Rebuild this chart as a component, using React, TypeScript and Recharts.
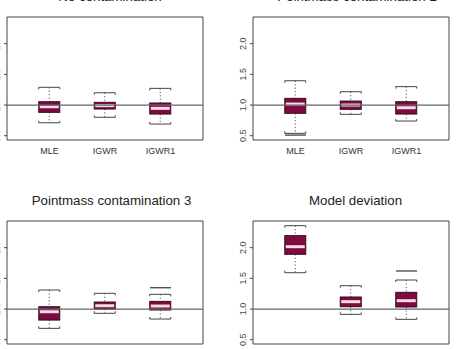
import React from 'react';
import {
  ComposedChart,
  Bar,
  Scatter,
  XAxis,
  YAxis,
  ReferenceLine,
  ReferenceArea,
} from 'recharts';

const methods = ['MLE', 'IGWR', 'IGWR1'];
const yTicks = [0.5, 1.0, 1.5, 2.0];

// [lower whisker, Q1, median, Q3, upper whisker] for each method
const noContamination = [
  [0.711, 0.881, 0.972, 1.054, 1.289],
  [0.8, 0.935, 0.99, 1.044, 1.2],
  [0.69, 0.853, 0.946, 1.033, 1.272],
];
const pointmass2 = [
  [0.538, 0.865, 1.016, 1.109, 1.396],
  [0.848, 0.93, 1.0, 1.065, 1.217],
  [0.739, 0.853, 0.956, 1.054, 1.3],
];
const pointmass3 = [
  [0.685, 0.82, 0.956, 1.038, 1.31],
  [0.93, 1.0, 1.054, 1.114, 1.256],
  [0.837, 0.984, 1.049, 1.125, 1.24],
];
const modelDeviation = [
  [1.592, 1.892, 2.016, 2.196, 2.359],
  [0.913, 1.038, 1.12, 1.196, 1.38],
  [0.832, 1.033, 1.136, 1.272, 1.473],
];

// points beyond the whiskers
const noContaminationOut = [[], [], []];
const pointmass2Out = [[0.51], [], []];
const pointmass3Out = [[], [], [1.347]];
const modelDeviationOut = [[], [], [1.62]];

const FONT = '"Liberation Sans", Arial, Helvetica, sans-serif';
const BOX_W = 21;
const PLOT_W = 196;
const PLOT_H = 123;
const M_TOP = 20;
const AXIS_W = 30;
const X_AXIS_H = 40;

const BoxShape = (props: any) => {
  const { x, y, width, height, payload } = props;
  const [lo, q1, med, q3, hi] = payload.stats;
  const top = Math.min(y, y + height);
  const ppu = Math.abs(height) / (hi - lo);
  const py = (v: number) => top + (hi - v) * ppu;
  const cx = x + width / 2;
  const l = x;
  const r = x + width;
  return (
    <g>
      <line x1={cx} x2={cx} y1={py(hi)} y2={py(q3)} stroke="#555" strokeWidth={1} strokeDasharray="1.2 2.2" />
      <line x1={cx} x2={cx} y1={py(q1)} y2={py(lo)} stroke="#555" strokeWidth={1} strokeDasharray="1.2 2.2" />
      <path d={`M${l},${py(hi) + 2}V${py(hi)}H${r}V${py(hi) + 2}`} fill="none" stroke="#444" strokeWidth={1} />
      <path d={`M${l},${py(lo) - 2}V${py(lo)}H${r}V${py(lo) - 2}`} fill="none" stroke="#444" strokeWidth={1} />
      <rect x={l} y={py(q3)} width={width} height={py(q1) - py(q3)} fill="#7c0b40" stroke="#3d0a20" strokeWidth={1} />
      <line x1={l + 1} x2={r - 1} y1={py(med)} y2={py(med)} stroke="#f6dbe6" strokeWidth={3} />
    </g>
  );
};

const OutlierShape = (props: any) => {
  const { cx, cy } = props;
  return <line x1={cx - BOX_W / 2} x2={cx + BOX_W / 2} y1={cy} y2={cy} stroke="#333" strokeWidth={1.2} />;
};

const YTick = (props: any) => {
  const { x, y, payload } = props;
  return (
    <text
      transform={`translate(${x},${y}) rotate(-90)`}
      textAnchor="middle"
      fontSize={9}
      fontFamily={FONT}
      fill="#444"
    >
      {Number(payload.value).toFixed(1)}
    </text>
  );
};

const XTick = (props: any) => {
  const { x, y, payload } = props;
  return (
    <text x={x} y={y + 14} textAnchor="middle" fontSize={9} fontFamily={FONT} fill="#333">
      {methods[payload.value - 1]}
    </text>
  );
};

interface PanelProps {
  title: string;
  stats: number[][];
  outliers: number[][];
  plotLeft: number;
  plotTop: number;
  titleX: number;
}

function Panel({ title, stats, outliers, plotLeft, plotTop, titleX }: PanelProps) {
  const rows = methods.map((m, i) => ({
    pos: i + 1,
    name: m,
    stats: stats[i],
    range: [stats[i][0], stats[i][4]],
  }));
  const outPoints = outliers.flatMap((vals, i) => vals.map((v) => ({ pos: i + 1, out: v })));

  return (
    <>
      <div
        style={{
          position: 'absolute',
          left: titleX - 120,
          width: 240,
          top: plotTop - 15.5 - 12.6,
          lineHeight: '16px',
          fontSize: 13.3,
          fontFamily: FONT,
          color: '#222',
          textAlign: 'center',
          whiteSpace: 'nowrap',
        }}
      >
        {title}
      </div>
      <div style={{ position: 'absolute', left: plotLeft - AXIS_W, top: plotTop - M_TOP }}>
        <ComposedChart
          width={AXIS_W + PLOT_W + 10}
          height={M_TOP + PLOT_H + X_AXIS_H}
          data={rows}
          margin={{ top: M_TOP, right: 10, bottom: 0, left: 0 }}
        >
          <XAxis
            dataKey="pos"
            type="number"
            domain={[0.234, 3.766]}
            ticks={[1, 2, 3]}
            interval={0}
            allowDataOverflow
            axisLine={false}
            tickLine={false}
            tickSize={0}
            tickMargin={0}
            height={X_AXIS_H}
            tick={<XTick />}
          />
          <YAxis
            type="number"
            domain={[0.43, 2.435]}
            ticks={yTicks}
            interval={0}
            allowDataOverflow
            width={AXIS_W}
            axisLine={false}
            tickSize={3}
            tickMargin={4}
            tickLine={{ stroke: '#444' }}
            tick={<YTick />}
          />
          <ReferenceArea y1={0.43} y2={2.435} fill="none" stroke="#444" strokeWidth={1} fillOpacity={0} ifOverflow="visible" />
          <ReferenceLine y={1} stroke="#666" strokeWidth={1.3} />
          <Bar dataKey="range" barSize={BOX_W} shape={<BoxShape />} isAnimationActive={false} />
          <Scatter data={outPoints} dataKey="out" shape={<OutlierShape />} isAnimationActive={false} />
        </ComposedChart>
      </div>
    </>
  );
}

export default function App() {
  return (
    <div
      style={{
        position: 'absolute',
        left: 0,
        top: 0,
        width: 457,
        height: 349,
        overflow: 'hidden',
        background: '#fff',
      }}
    >
      <Panel title="No contamination" stats={noContamination} outliers={noContaminationOut} plotLeft={7} plotTop={17} titleX={110} />
      <Panel title="Pointmass contamination 2" stats={pointmass2} outliers={pointmass2Out} plotLeft={253} plotTop={17} titleX={357} />
      <Panel title="Pointmass contamination 3" stats={pointmass3} outliers={pointmass3Out} plotLeft={7} plotTop={221} titleX={111.5} />
      <Panel title="Model deviation" stats={modelDeviation} outliers={modelDeviationOut} plotLeft={253} plotTop={221} titleX={355.5} />
    </div>
  );
}
